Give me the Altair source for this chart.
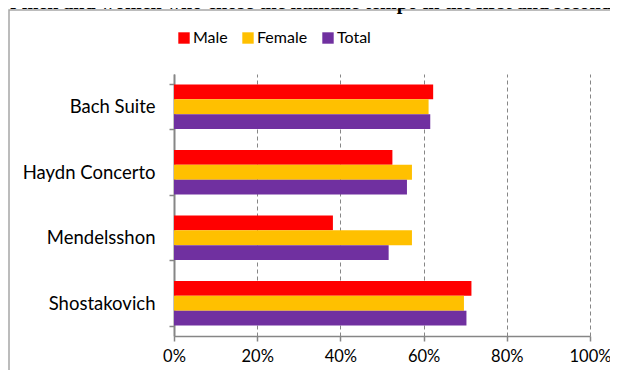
import altair as alt
import pandas as pd

categories = ["Bach Suite", "Haydn Concerto", "Mendelsshon", "Shostakovich"]
series = ["Male", "Female", "Total"]
colors = ["#FF0000", "#FFC000", "#7030A0"]
male = [62.3, 52.5, 38.2, 71.5]
female = [61.2, 57.2, 57.2, 69.7]
total = [61.6, 56.0, 51.6, 70.3]
x_ticks = [0, 0.2, 0.4, 0.6, 0.8, 1.0]
title_text = "of men and women who chose the humane tempo in the first and second movements"

rows = []
for name, vals in zip(series, [male, female, total]):
    for c, v in zip(categories, vals):
        rows.append({"category": c, "series": name, "value": v / 100})
df = pd.DataFrame(rows)

FONT = "Lato"
AXIS_GRAY = "#868686"

one = pd.DataFrame({"a": [0]})

box = alt.Chart(one).mark_rect(fill="white", fillOpacity=0, stroke="#a6a6a6", strokeWidth=1.5).encode(
    x=alt.value(-165), x2=alt.value(700), y=alt.value(-64), y2=alt.value(500)
)

title = alt.Chart(one).mark_text(
    align="left", baseline="alphabetic", font="Liberation Serif",
    fontWeight="bold", fontSize=20, color="black"
).encode(x=alt.value(-174), y=alt.value(-65), text=alt.value(title_text))

bars = alt.Chart(df).mark_bar().encode(
    y=alt.Y(
        "category:N", sort=categories,
        scale=alt.Scale(paddingInner=0.32, paddingOuter=0.16),
        axis=alt.Axis(
            title=None, tickBand="extent", labelFont=FONT, labelFontSize=18.5,
            labelColor="black", labelPadding=14, tickSize=5, tickColor=AXIS_GRAY,
            domainColor=AXIS_GRAY, domainWidth=2, tickWidth=1.5,
        ),
    ),
    yOffset=alt.YOffset("series:N", sort=series,
                        scale=alt.Scale(paddingInner=0, paddingOuter=0)),
    x=alt.X(
        "value:Q", scale=alt.Scale(domain=[0, 1], nice=False),
        axis=alt.Axis(
            title=None, format=".0%", values=x_ticks, grid=True,
            gridDash=[4, 3], gridColor=AXIS_GRAY, gridWidth=1,
            labelFont=FONT, labelFontSize=16.5, labelColor="black",
            labelPadding=7, labelFlush=False, tickSize=5, tickColor=AXIS_GRAY,
            domainColor=AXIS_GRAY, domainWidth=1.5, tickWidth=1.5,
        ),
    ),
    color=alt.Color(
        "series:N", sort=series,
        scale=alt.Scale(domain=series, range=colors),
        legend=alt.Legend(
            title=None, orient="none", direction="horizontal",
            legendX=2, legendY=-44, symbolType="square", symbolSize=130,
            symbolStrokeWidth=0, labelFont=FONT, labelFontSize=16,
            labelColor="black", labelOffset=1, columnPadding=12, padding=0,
        ),
    ),
)

chart = alt.layer(box, title, bars).properties(
    width=416, height=262,
    autosize=alt.AutoSizeParams(type="none"),
    padding={"left": 166, "top": 66, "right": 20, "bottom": 34},
).configure_view(stroke=None)

chart.save("out.html", embed_options={"renderer": "svg", "actions": False})
